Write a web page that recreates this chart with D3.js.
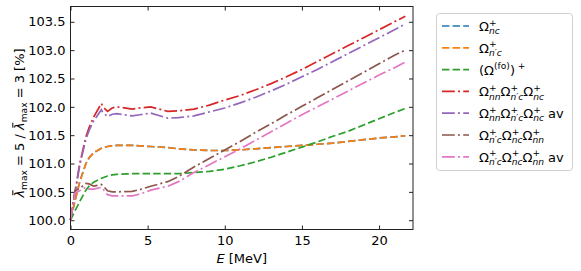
<!doctype html>
<html lang="en">
<head>
<meta charset="utf-8">
<title>lambda max ratio</title>
<script src="https://cdn.jsdelivr.net/npm/d3@7"></script>
<style>
  body { margin: 0; background: #fff; }
  svg text { font-family: "DejaVu Sans", sans-serif; fill: #000; white-space: pre; }
</style>
</head>
<body>
<svg id="chart" width="581" height="271"></svg>
<script>
// energy grid [MeV], shared by every series
var energy = [0, 0.3, 0.6, 1.0, 1.2, 1.5, 2.0, 2.1, 2.4, 2.7, 3.0, 4.0, 4.5, 5.2, 6.3, 7.0,
              8, 9, 10, 11, 12, 13, 14, 15, 16, 17, 18, 19, 20, 21, 21.7];

var omegaNc = [100.0, 100.35, 100.68, 101.0, 101.1, 101.19, 101.27, 101.28, 101.3, 101.31, 101.32, 101.32, 101.31, 101.3, 101.28, 101.26,
               101.24, 101.23, 101.23, 101.24, 101.26, 101.28, 101.3, 101.32, 101.34, 101.36, 101.39, 101.42, 101.45, 101.47, 101.49];
var omegaNpc = [100.0, 100.35, 100.68, 101.0, 101.1, 101.19, 101.27, 101.28, 101.3, 101.31, 101.32, 101.32, 101.31, 101.3, 101.28, 101.26,
                101.24, 101.23, 101.23, 101.24, 101.26, 101.28, 101.3, 101.32, 101.34, 101.36, 101.39, 101.42, 101.45, 101.47, 101.49];
var omegaFo = [100.0, 100.17, 100.33, 100.53, 100.6, 100.67, 100.74, 100.75, 100.78, 100.8, 100.81, 100.82, 100.82, 100.82, 100.82, 100.82,
               100.84, 100.86, 100.9, 100.96, 101.03, 101.11, 101.2, 101.29, 101.38, 101.48, 101.57, 101.68, 101.79, 101.9, 101.97];
var prodA = [100.0, 100.52, 101.0, 101.47, 101.63, 101.82, 102.06, 102.0, 101.92, 101.98, 102.0, 101.96, 101.98, 102.0, 101.92, 101.93,
             101.96, 102.03, 102.12, 102.2, 102.3, 102.41, 102.53, 102.66, 102.8, 102.94, 103.08, 103.22, 103.36, 103.5, 103.6];
var prodAav = [100.0, 100.48, 100.97, 101.43, 101.58, 101.75, 101.95, 101.9, 101.83, 101.87, 101.88, 101.84, 101.86, 101.89, 101.8, 101.81,
               101.84, 101.91, 101.98, 102.07, 102.17, 102.28, 102.4, 102.53, 102.66, 102.8, 102.94, 103.08, 103.22, 103.36, 103.46];
var prodB = [100.0, 100.52, 100.56, 100.65, 100.64, 100.6, 100.63, 100.61, 100.52, 100.5, 100.5, 100.51, 100.54, 100.6, 100.68, 100.77,
             100.94, 101.09, 101.24, 101.39, 101.55, 101.7, 101.86, 102.01, 102.16, 102.31, 102.46, 102.61, 102.76, 102.91, 103.0];
var prodBav = [100.0, 100.48, 100.52, 100.58, 100.55, 100.55, 100.58, 100.55, 100.45, 100.43, 100.43, 100.43, 100.46, 100.53, 100.6, 100.68,
               100.84, 100.98, 101.12, 101.26, 101.41, 101.56, 101.71, 101.86, 102.0, 102.14, 102.28, 102.42, 102.56, 102.69, 102.79];

var seriesValues = [omegaNc, omegaNpc, omegaFo, prodA, prodAav, prodB, prodBav];
var seriesColors = ["#1f77b4", "#ff7f0e", "#2ca02c", "#d62728", "#9467bd", "#8c564b", "#e377c2"];
var seriesStyle = ["dash", "dash", "dash", "dashdot", "dashdot", "dashdot", "dashdot"];

// legend labels as mathtext pieces
var legendLabels = [
  [{t: "Ω", sup: "+", sub: "nc"}],
  [{t: "Ω", sup: "+", sub: "n′c"}],
  [{t: "(Ω", sup: "(fo)"}, {t: ")", sup: " +"}],
  [{t: "Ω", sup: "+", sub: "nn"}, {t: "Ω", sup: "+", sub: "n′c"}, {t: "Ω", sup: "+", sub: "nc"}],
  [{t: "Ω", sup: "+", sub: "nn"}, {t: "Ω", sup: "+", sub: "n′c"}, {t: "Ω", sup: "+", sub: "nc"}, {t: " av"}],
  [{t: "Ω", sup: "+", sub: "n′c"}, {t: "Ω", sup: "+", sub: "nc"}, {t: "Ω", sup: "+", sub: "nn"}],
  [{t: "Ω", sup: "+", sub: "n′c"}, {t: "Ω", sup: "+", sub: "nc"}, {t: "Ω", sup: "+", sub: "nn"}, {t: " av"}]
];
var yLabel = [{t: "λ", it: true, bar: true, sub: "max", subUp: true}, {t: " = 5 / "},
              {t: "λ", it: true, bar: true, sub: "max", subUp: true}, {t: " = 3 [%]"}];

var xTicks = [0, 5, 10, 15, 20];
var yTicks = [100.0, 100.5, 101.0, 101.5, 102.0, 102.5, 103.0, 103.5];

var fs = 13;
var dashes = {dash: "7.4,3.2", dashdot: "12.8,3.2,2,3.2"};

var svg = d3.select("#chart");
var plotL = 70.5, plotR = 413, plotT = 6.5, plotB = 229.5;

var x = d3.scaleLinear().domain([0, 22.2]).range([plotL, plotR]);
var y = d3.scaleLinear().domain([99.836, 103.77]).range([plotB, plotT]);

// draws a mathtext-like label, returns its width
function mathText(g, x0, base, parts, size) {
  var cx = x0;
  parts.forEach(function(p) {
    if (p.t) {
      var t = g.append("text").attr("x", cx).attr("y", base)
        .style("font-size", size + "px").style("font-style", p.it ? "italic" : null).text(p.t);
      var tw = t.node().getComputedTextLength();
      if (p.bar) {
        g.append("line").attr("x1", cx + tw * 0.3).attr("x2", cx + tw * 0.95)
          .attr("y1", base - size * 0.86).attr("y2", base - size * 0.86)
          .attr("stroke", "#000").attr("stroke-width", 1);
      }
      cx += tw;
    }
    var w = 0;
    if (p.sup) {
      var s = g.append("text").attr("x", cx).attr("y", base - size * 0.42)
        .style("font-size", (size * 0.7) + "px").text(p.sup);
      w = Math.max(w, s.node().getComputedTextLength());
    }
    if (p.sub) {
      var b = g.append("text").attr("x", cx).attr("y", base + size * 0.25)
        .style("font-size", (size * 0.7) + "px").style("font-style", p.subUp ? null : "italic").text(p.sub);
      w = Math.max(w, b.node().getComputedTextLength());
    }
    cx += w;
  });
  return cx - x0;
}

// axes ticks
var gx = svg.append("g").attr("transform", "translate(0," + plotB + ")")
  .call(d3.axisBottom(x).tickValues(xTicks).tickSize(-4).tickPadding(6).tickFormat(d3.format("d")));
var gxt = svg.append("g").attr("transform", "translate(0," + plotT + ")")
  .call(d3.axisTop(x).tickValues(xTicks).tickSize(-4).tickFormat(""));
var gy = svg.append("g").attr("transform", "translate(" + plotL + ",0)")
  .call(d3.axisLeft(y).tickValues(yTicks).tickSize(-4).tickPadding(5).tickFormat(d3.format(".1f")));
var gyr = svg.append("g").attr("transform", "translate(" + plotR + ",0)")
  .call(d3.axisRight(y).tickValues(yTicks).tickSize(-4).tickFormat(""));

[gx, gxt, gy, gyr].forEach(function(g) {
  g.select(".domain").remove();
  g.selectAll("line").attr("stroke", "#222");
  g.selectAll("text").attr("font-family", null).style("font-size", fs + "px").attr("fill", "#000");
});

// series
var line = d3.line().x(function(d, i) { return x(energy[i]); }).y(function(d) { return y(d); });
svg.append("g").selectAll("path").data(seriesValues).join("path")
  .attr("d", line)
  .attr("fill", "none")
  .attr("stroke", function(d, i) { return seriesColors[i]; })
  .attr("stroke-width", 1.7)
  .attr("stroke-dasharray", function(d, i) { return dashes[seriesStyle[i]]; });

// frame
svg.append("rect").attr("x", plotL).attr("y", plotT)
  .attr("width", plotR - plotL).attr("height", plotB - plotT)
  .attr("fill", "none").attr("stroke", "#222").attr("stroke-width", 1);

// axis labels
var xl = svg.append("g");
var xw = mathText(xl, 0, 263, [{t: "E", it: true}, {t: " [MeV]"}], fs);
xl.attr("transform", "translate(" + ((plotL + plotR) / 2 - xw / 2) + ",0)");

var yl = svg.append("g");
var yw = mathText(yl, 0, 0, yLabel, fs);
yl.attr("transform", "translate(24," + (123 + yw / 2) + ") rotate(-90)");

// legend
var lg = svg.append("g");
lg.append("rect").attr("x", 436.5).attr("y", 13.5).attr("width", 136).attr("height", 157)
  .attr("rx", 3).attr("fill", "#fff").attr("fill-opacity", 0.8).attr("stroke", "#d0d0d0");
legendLabels.forEach(function(lab, i) {
  var ly = 26 + i * 21.8;
  lg.append("line").attr("x1", 442).attr("x2", 469).attr("y1", ly).attr("y2", ly)
    .attr("stroke", seriesColors[i]).attr("stroke-width", 1.7)
    .attr("stroke-dasharray", dashes[seriesStyle[i]]);
  mathText(lg, 479, ly + 5, lab, fs);
});
</script>
</body>
</html>
